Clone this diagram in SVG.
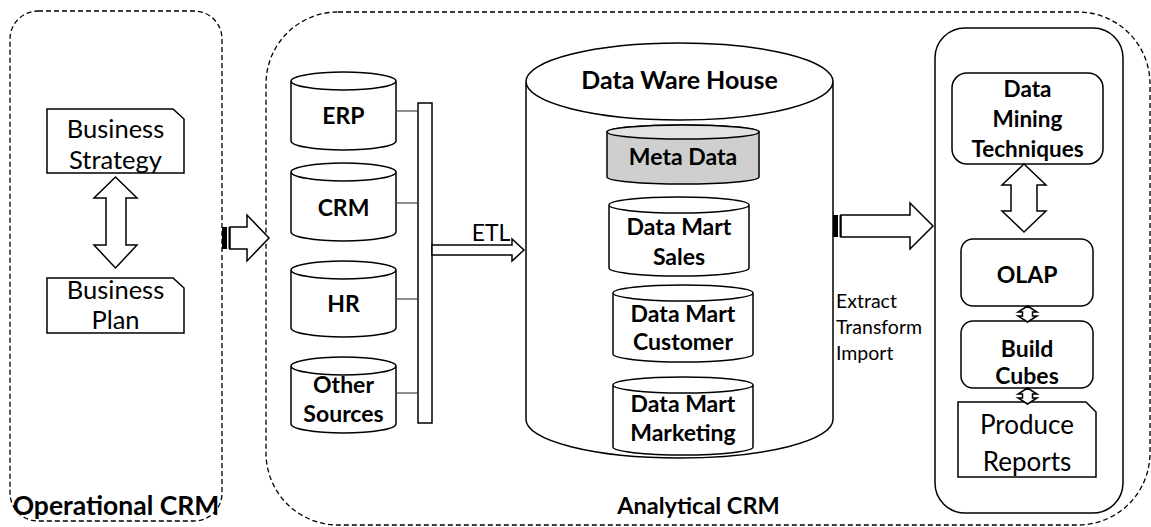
<svg xmlns="http://www.w3.org/2000/svg" width="1151" height="527" viewBox="0 0 1151 527">
<style>
.sh{fill:#fff;stroke:#000;stroke-width:1.5}
.dash{fill:none;stroke:#000;stroke-width:1.3;stroke-dasharray:5 3}
.b{font-family:Lato,"Liberation Sans",sans-serif;font-weight:bold;fill:#000;text-anchor:middle;font-size:23px}
.r{font-family:Lato,"Liberation Sans",sans-serif;fill:#000;text-anchor:middle;font-size:25.5px}
.s{font-family:Lato,"Liberation Sans",sans-serif;fill:#000;text-anchor:start;font-size:19.5px}
.ln{stroke:#444;stroke-width:1.2;fill:none}
</style>
<rect width="1151" height="527" fill="#fff"/>

<g id="operational-crm">
<rect class="dash" x="10" y="11" width="212" height="510" rx="28"/>
<text class="b" x="116" y="515" style="font-size:26.5px">Operational CRM</text>
</g>
<g id="analytical-crm">
<rect class="dash" x="266" y="12" width="884" height="513" rx="72"/>
<text class="b" x="698.5" y="514" style="font-size:23.5px">Analytical CRM</text>
</g>

<g id="business-strategy">
<path class="sh" d="M47,109 H173 L184,119 V173 H47 Z"/>
<text class="r" x="115.5" y="138">Business</text>
<text class="r" x="115.5" y="169">Strategy</text>
</g>
<g id="business-plan">
<path class="sh" d="M47,278 H173 L184,288 V333 H47 Z"/>
<text class="r" x="115.5" y="299">Business</text>
<text class="r" x="115.5" y="329">Plan</text>
</g>

<g id="erp">
<path class="sh" d="M291,81 A52.5,9 0 0 1 396,81 V141 A52.5,9 0 0 1 291,141 Z M291,81 A52.5,9 0 0 0 396,81"/>
<text class="b" x="343.5" y="124">ERP</text>
</g>
<g id="crm">
<path class="sh" d="M291,172 A52.5,9 0 0 1 396,172 V232 A52.5,9 0 0 1 291,232 Z M291,172 A52.5,9 0 0 0 396,172"/>
<text class="b" x="343.5" y="216">CRM</text>
</g>
<g id="hr">
<path class="sh" d="M291,270 A52.5,9 0 0 1 396,270 V328 A52.5,9 0 0 1 291,328 Z M291,270 A52.5,9 0 0 0 396,270"/>
<text class="b" x="343.5" y="312">HR</text>
</g>
<g id="other-sources">
<path class="sh" d="M291,366 A52.5,9 0 0 1 396,366 V424 A52.5,9 0 0 1 291,424 Z M291,366 A52.5,9 0 0 0 396,366"/>
<text class="b" x="343.5" y="393">Other</text>
<text class="b" x="343.5" y="422">Sources</text>
</g>

<g id="etl-bus">
<rect class="sh" x="418" y="103" width="14" height="320"/>
</g>

<g id="data-ware-house">
<path class="sh" d="M526,81.5 A153.5,38.5 0 0 1 833,81.5 V419.5 A153.5,38.5 0 0 1 526,419.5 Z M526,81.5 A153.5,38.5 0 0 0 833,81.5"/>
<text class="b" x="679.5" y="89" style="font-size:25px">Data Ware House</text>
</g>
<g id="meta-data">
<path d="M607,132 A76,7 0 0 1 759,132 V177 A76,7 0 0 1 607,177 Z" fill="#cfcfcf" stroke="#000" stroke-width="1.5"/>
<ellipse cx="683" cy="132" rx="76" ry="7" fill="#e3e3e3" stroke="#000" stroke-width="1.5"/>
<text class="b" x="683" y="165">Meta Data</text>
</g>
<g id="data-mart-sales">
<path class="sh" d="M609,205 A70,8 0 0 1 749,205 V268 A70,8 0 0 1 609,268 Z M609,205 A70,8 0 0 0 749,205"/>
<text class="b" x="679" y="235">Data Mart</text>
<text class="b" x="679" y="265">Sales</text>
</g>
<g id="data-mart-customer">
<path class="sh" d="M613,293 A70,8 0 0 1 753,293 V354 A70,8 0 0 1 613,354 Z M613,293 A70,8 0 0 0 753,293"/>
<text class="b" x="683" y="322">Data Mart</text>
<text class="b" x="683" y="350">Customer</text>
</g>
<g id="data-mart-marketing">
<path class="sh" d="M613,385 A70,8 0 0 1 753,385 V447 A70,8 0 0 1 613,447 Z M613,385 A70,8 0 0 0 753,385"/>
<text class="b" x="683" y="412">Data Mart</text>
<text class="b" x="683" y="441">Marketing</text>
</g>

<g id="analysis-panel">
<rect class="sh" x="935" y="28" width="188" height="485" rx="30"/>
</g>
<g id="data-mining">
<rect class="sh" x="952" y="73" width="151" height="91" rx="15"/>
<text class="b" x="1027.5" y="97" style="font-size:22.5px">Data</text>
<text class="b" x="1027.5" y="127" style="font-size:22.5px">Mining</text>
<text class="b" x="1027.5" y="157" style="font-size:22.5px">Techniques</text>
</g>
<g id="olap">
<rect class="sh" x="961" y="239" width="132" height="67" rx="12"/>
<text class="b" x="1027" y="283">OLAP</text>
</g>
<g id="build-cubes">
<rect class="sh" x="961" y="321" width="132" height="67" rx="12"/>
<text class="b" x="1027" y="357">Build</text>
<text class="b" x="1027" y="384">Cubes</text>
</g>
<g id="produce-reports">
<path class="sh" d="M958,402 H1086 L1096,412 V477 H958 Z"/>
<text class="r" x="1027" y="434" style="font-size:26px">Produce</text>
<text class="r" x="1027" y="471" style="font-size:26px">Reports</text>
</g>

<g id="connectors">
<line class="ln" x1="396" y1="111" x2="418" y2="111"/>
<line class="ln" x1="396" y1="203" x2="418" y2="203"/>
<line class="ln" x1="396" y1="299" x2="418" y2="299"/>
<line class="ln" x1="396" y1="393" x2="418" y2="393"/>
<polygon class="sh" points="115.5,177 137,198 126,198 126,245 137,245 115.5,268 94,245 106,245 106,198 94,198"/>
<rect x="222" y="227" width="5" height="22" fill="#000"/>
<rect x="228.5" y="227" width="1.8" height="22" fill="#000"/>
<polygon class="sh" points="230,227 247,227 247,215 269,238 247,261 247,249 230,249"/>
<polygon class="sh" points="432,245 512,245 512,239 524,250 512,261 512,255 432,255"/>
<text class="r" x="491" y="241" style="font-size:23px">ETL</text>
<rect x="833" y="215" width="5" height="22" fill="#000"/>
<rect x="839.5" y="215" width="1.8" height="22" fill="#000"/>
<polygon class="sh" points="841,215 910,215 910,203 933,226 910,249 910,237 841,237"/>
<text class="s" x="836" y="308">Extract</text>
<text class="s" x="836" y="334">Transform</text>
<text class="s" x="836" y="360">Import</text>
<polygon class="sh" points="1024,164 1046,185 1037,185 1037,211 1046,211 1024,232 1002,211 1011,211 1011,185 1002,185"/>
<polygon class="sh" points="1027.5,306 1037,312 1032.5,312 1032.5,316 1037,316 1027.5,322 1018,316 1022.5,316 1022.5,312 1018,312"/>
<polygon class="sh" points="1027.5,388 1037,394 1032.5,394 1032.5,398 1037,398 1027.5,404 1018,398 1022.5,398 1022.5,394 1018,394"/>
</g>
</svg>
